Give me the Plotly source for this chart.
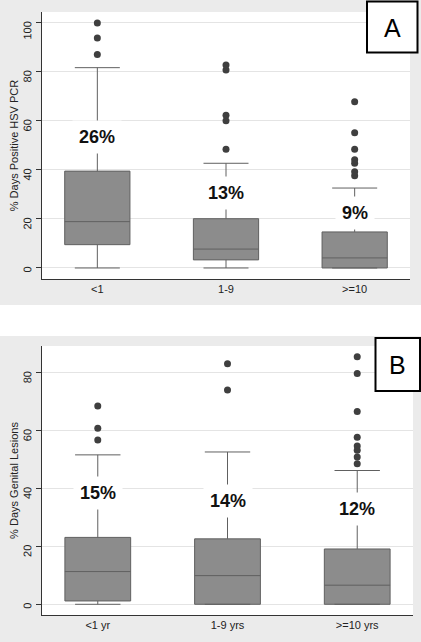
import plotly.graph_objects as go

# ---- Data ----
cats_a = ["<1", "1-9", ">=10"]
q1_a = [9.5, 3.3, 0.0]
med_a = [18.9, 7.7, 4.1]
q3_a = [39.5, 20.1, 14.7]
lo_a = [0.0, 0.0, 0.0]
hi_a = [81.7, 42.7, 32.6]
out_a = {
    "<1": [87.1, 93.8, 99.9],
    "1-9": [48.4, 60.0, 62.3, 80.7, 82.8],
    ">=10": [37.6, 39.2, 42.7, 44.1, 48.4, 55.1, 67.8],
}
lab_a = ["26%", "13%", "9%"]
lab_y_a = [53.6, 30.5, 22.3]

cats_b = ["<1 yr", "1-9 yrs", ">=10 yrs"]
q1_b = [1.15, 0.0, 0.0]
med_b = [11.3, 9.9, 6.6]
q3_b = [23.1, 22.6, 19.1]
lo_b = [0.0, 0.0, 0.0]
hi_b = [51.6, 52.6, 46.2]
out_b = {
    "<1 yr": [56.7, 60.8, 68.5],
    "1-9 yrs": [74.0, 83.1],
    ">=10 yrs": [48.5, 50.9, 53.2, 54.7, 57.7, 66.6, 79.7, 85.5],
}
lab_b = ["15%", "14%", "12%"]
lab_y_b = [38.3, 35.5, 32.8]

yticks_a = [0, 20, 40, 60, 80, 100]
yticks_b = [0, 20, 40, 60, 80]

W, H = 421, 642
FONT = "Liberation Sans, Arial, sans-serif"
BG = "#ebebeb"
BOXFILL = "#8c8c8c"
BOXLINE = "#606060"
DOT = "#3f3f3f"


def py(pix):
    return (H - pix) / H


def px(pix):
    return pix / W


fig = go.Figure()

panels = [
    dict(cats=cats_a, q1=q1_a, med=med_a, q3=q3_a, lo=lo_a, hi=hi_a, out=out_a,
         lab=lab_a, laby=lab_y_a, xa="x", ya="y"),
    dict(cats=cats_b, q1=q1_b, med=med_b, q3=q3_b, lo=lo_b, hi=hi_b, out=out_b,
         lab=lab_b, laby=lab_y_b, xa="x2", ya="y2"),
]

for p in panels:
    fig.add_trace(go.Box(
        x=p["cats"], q1=p["q1"], median=p["med"], q3=p["q3"],
        lowerfence=p["lo"], upperfence=p["hi"],
        boxpoints=False, width=0.507, whiskerwidth=0.69,
        fillcolor=BOXFILL, line=dict(color=BOXLINE, width=1),
        xaxis=p["xa"], yaxis=p["ya"], showlegend=False, hoverinfo="skip"))
    ox, oy = [], []
    for c in p["cats"]:
        for v in p["out"][c]:
            ox.append(c)
            oy.append(v)
    fig.add_trace(go.Scatter(
        x=ox, y=oy, mode="markers",
        marker=dict(color=DOT, size=7, line=dict(width=0)),
        xaxis=p["xa"], yaxis=p["ya"], showlegend=False, hoverinfo="skip"))
    for c, t, yv in zip(p["cats"], p["lab"], p["laby"]):
        fig.add_annotation(x=c, y=yv, xref=p["xa"], yref=p["ya"], text="<b>%s</b>" % t,
                           showarrow=False, bgcolor="white", borderpad=6,
                           font=dict(family=FONT, size=18, color="#111"))

axis_common = dict(showline=True, linecolor="#333", linewidth=1, zeroline=False,
                   tickfont=dict(family=FONT, size=11, color="#222"), automargin=False)

fig.update_layout(
    width=W, height=H,
    margin=dict(l=0, r=0, t=0, b=0),
    paper_bgcolor="white", plot_bgcolor="white",
    font=dict(family=FONT, color="#222"),
    xaxis=dict(domain=[px(42), px(410)], anchor="y", type="category",
               categoryorder="array", categoryarray=cats_a,
               range=[-0.43, 2.43], showgrid=False, ticks="", **axis_common),
    yaxis=dict(domain=[py(279), py(12)], anchor="x", range=[-4.5, 104.4],
               tickvals=yticks_a, ticks="outside", ticklen=5, tickcolor="#333",
               tickangle=-89.9, ticklabelstandoff=8,
               showgrid=True, gridcolor="#e4e4e4", gridwidth=1,
               title=dict(text="% Days Positive HSV PCR", font=dict(family=FONT, size=11, color="#222"),
                          standoff=0),
               **axis_common),
    xaxis2=dict(domain=[px(42), px(413)], anchor="y2", type="category",
                categoryorder="array", categoryarray=cats_b,
                range=[-0.43, 2.43], showgrid=False, ticks="", **axis_common),
    yaxis2=dict(domain=[py(615), py(346)], anchor="x2", range=[-3.7, 89.2],
                tickvals=yticks_b, ticks="outside", ticklen=5, tickcolor="#333",
                tickangle=-89.9, ticklabelstandoff=8,
                showgrid=True, gridcolor="#e4e4e4", gridwidth=1,
                title=dict(text="% Days Genital Lesions", font=dict(family=FONT, size=11, color="#222"),
                           standoff=0),
                **axis_common),
)

# gray panel backgrounds, then white plot areas
fig.add_shape(type="rect", xref="paper", yref="paper", x0=0, x1=1, y0=py(305), y1=1,
              fillcolor=BG, line=dict(width=0), layer="below")
fig.add_shape(type="rect", xref="paper", yref="paper", x0=0, x1=1, y0=0, y1=py(336),
              fillcolor=BG, line=dict(width=0), layer="below")
fig.add_shape(type="rect", xref="paper", yref="paper", x0=px(42), x1=px(410), y0=py(279), y1=py(12),
              fillcolor="white", line=dict(width=0), layer="below")
fig.add_shape(type="rect", xref="paper", yref="paper", x0=px(42), x1=px(413), y0=py(615), y1=py(346),
              fillcolor="white", line=dict(width=0), layer="below")

# panel letter boxes
fig.add_shape(type="rect", xref="paper", yref="paper", x0=px(367), x1=px(417.5),
              y0=py(52.5), y1=py(1.5), fillcolor="white", line=dict(color="black", width=2))
fig.add_annotation(xref="paper", yref="paper", x=px(392.5), y=py(28), text="A",
                   xanchor="center", yanchor="middle",
                   showarrow=False, font=dict(family=FONT, size=25, color="black"))
fig.add_shape(type="rect", xref="paper", yref="paper", x0=px(375.5), x1=px(420),
              y0=py(391), y1=py(338), fillcolor="white", line=dict(color="black", width=2))
fig.add_annotation(xref="paper", yref="paper", x=px(397.5), y=py(365), text="B",
                   xanchor="center", yanchor="middle",
                   showarrow=False, font=dict(family=FONT, size=25, color="black"))

fig.write_html("out.html", config={"displayModeBar": False},
               post_script="document.body.style.margin='0px';document.body.style.padding='0px';")
